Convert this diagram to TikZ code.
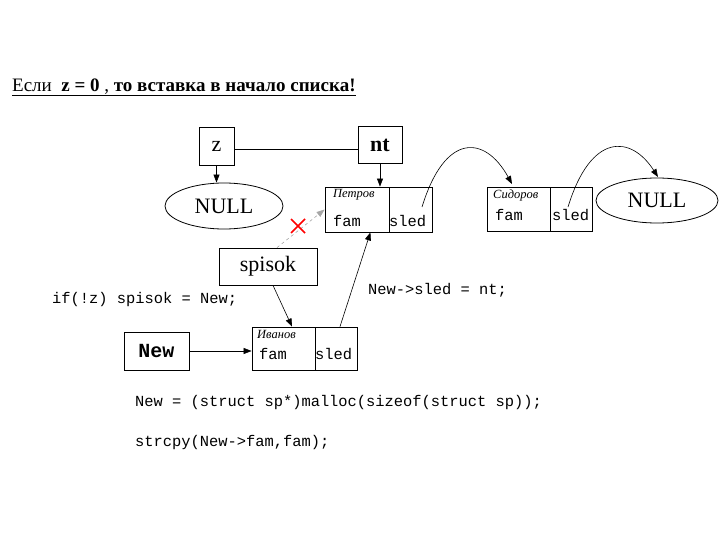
\documentclass[tikz,border=0pt]{standalone}
\usepackage{fontspec}
\setmainfont{Liberation Serif}
\setmonofont{Liberation Mono}
\usetikzlibrary{arrows.meta,shapes.geometric}
\begin{document}
\begin{tikzpicture}[x=1pt,y=-1pt,
 box/.style={draw, line width=0.8pt, inner sep=0pt},
 arr/.style={-{Triangle[length=8pt,width=6pt]}, line width=0.6pt},
 code/.style={font=\ttfamily\fontsize{15.4}{16}\selectfont, anchor=base west, inner sep=0pt},
 lab/.style={font=\itshape\fontsize{12.5}{12.5}\selectfont, anchor=base west, inner sep=0pt},
 nul/.style={draw, ellipse, line width=0.8pt, inner sep=0pt, font=\fontsize{22}{22}\selectfont}]
\useasboundingbox (0,0) rectangle (720,540);
% title
\node[anchor=base west, inner sep=0pt, font=\fontsize{19}{19}\selectfont] (title) at (12,92)
  {Если\ \ \textbf{z = 0} , \textbf{то вставка в начало списка!}};
\draw[line width=1.5pt] ([yshift=-3.5pt]title.base west) -- ([yshift=-3.5pt]title.base east);
% top boxes
\node[box, minimum width=35pt, minimum height=38pt, font=\fontsize{22}{22}\selectfont] (z) at (216.5,146) {z};
\node[box, minimum width=44pt, minimum height=37pt, font=\bfseries\fontsize{22}{22}\selectfont] (nt) at (380,145) {nt};
\node[nul, minimum width=118pt, minimum height=46pt] (null1) at (224,206) {NULL};
\node[nul, minimum width=122pt, minimum height=45pt] (null2) at (657,200.5) {NULL};
% records
\node[box, minimum width=64pt, minimum height=45pt] (pL) at (357,209.5) {};
\node[box, minimum width=43pt, minimum height=45pt] (pR) at (410.5,209.5) {};
\node[box, minimum width=63pt, minimum height=44pt] (sL) at (518.5,209) {};
\node[box, minimum width=42pt, minimum height=44pt] (sR) at (571,209) {};
\node[box, minimum width=63pt, minimum height=43pt] (iL) at (283.5,348.5) {};
\node[box, minimum width=42pt, minimum height=43pt] (iR) at (336,348.5) {};
\node[lab] (pLab) at (333,198) {Петров};
\node[code] (pFam) at (333,226) {fam};
\node[code] (pSled) at (389,226) {sled};
\node[lab] (sLab) at (493,199) {Сидоров};
\node[code] (sFam) at (495,221) {fam};
\node[code] (sSled) at (552,221) {sled};
\node[lab] (iLab) at (257,338) {Иванов};
\node[code] (iFam) at (259,359) {fam};
\node[code] (iSled) at (315,359) {sled};
% other boxes
\node[box, minimum width=98pt, minimum height=37pt, font=\fontsize{22}{22}\selectfont] (spisok) at (268,266.5) {spisok};
\node[box, minimum width=65pt, minimum height=38pt, font=\ttfamily\bfseries\fontsize{20}{20}\selectfont] (New) at (156.5,351) {New};
% code lines
\node[code] (c1) at (52,303) {if(!z) spisok = New;};
\node[code] (c2) at (368,294) {New->sled = nt;};
\node[code] (c3) at (135,406) {New = (struct sp*)malloc(sizeof(struct sp));};
\node[code] (c4) at (135,446) {strcpy(New->fam,fam);};
% connectors
\coordinate (zl) at ([yshift=-3pt]z.east);
\draw[line width=0.8pt] (zl) -- (zl -| nt.west);
\draw[arr] (z.south) -- (z.south |- null1.north);
\draw[arr] (nt.south) -- (nt.south |- pL.north);
\coordinate (a1) at (422,207);
\coordinate (b1) at (512,184);
\coordinate (a2) at (568,207);
\coordinate (b2) at (658,177);
\draw[arr] (a1) .. controls (445,132) and (485,135) .. (b1);
\draw[arr] (a2) .. controls (591,132) and (631,135) .. (b2);
\draw[arr, gray!70, dashed] ([xshift=9pt]spisok.north) -- (pL.west);
\draw[red, line width=1.5pt] (291,219) -- (305,233) (291,233) -- (305,219);
\draw[arr] ([xshift=5pt]spisok.south) -- ([xshift=8.5pt]iL.north);
\draw[arr] ([xshift=4pt]iR.north) -- ([xshift=-19pt]pL.south east);
\draw[arr] (New.east) -- (New.east -| iL.west);
\end{tikzpicture}
\end{document}
